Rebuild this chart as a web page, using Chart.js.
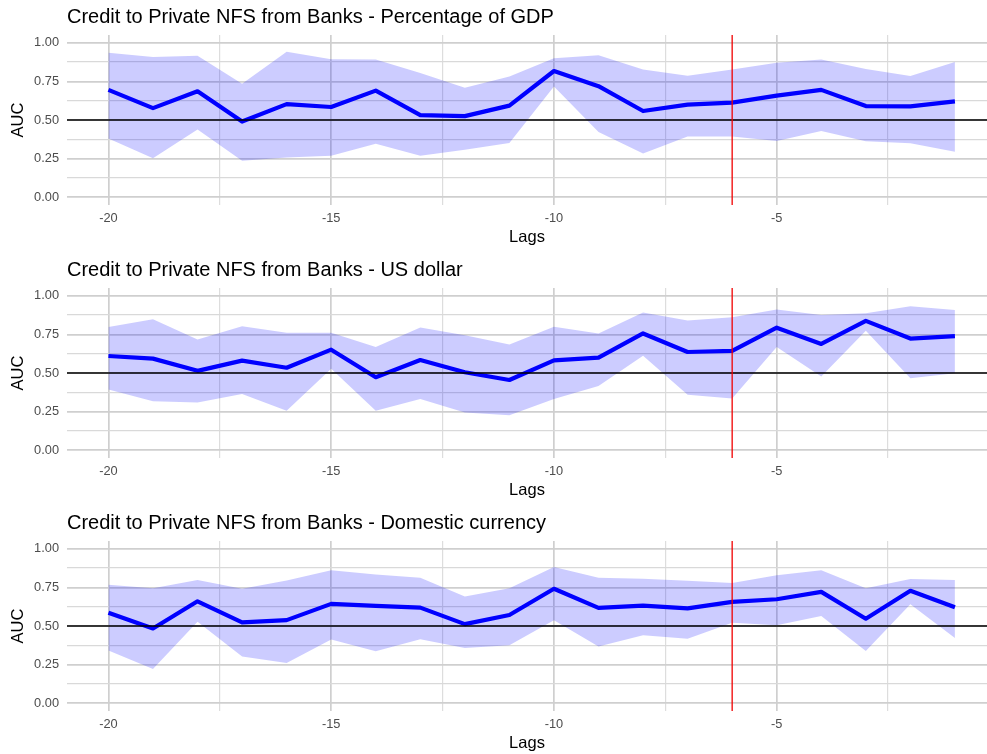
<!DOCTYPE html>
<html>
<head>
<meta charset="utf-8">
<title>AUC by lag</title>
<script src="https://cdn.jsdelivr.net/npm/chart.js@4.4.1/dist/chart.umd.min.js"></script>
<style>
  html, body { margin: 0; padding: 0; background: #fff; overflow: hidden; }
  .panel { position: absolute; left: 0; width: 987px; height: 253px; }
</style>
</head>
<body>
<div class="panel" style="top:0px"><canvas id="chart-gdp"></canvas></div>
<div class="panel" style="top:253px"><canvas id="chart-usd"></canvas></div>
<div class="panel" style="top:506px"><canvas id="chart-dc"></canvas></div>
<script>
// Lags on the x axis
const lags = [-20, -19, -18, -17, -16, -15, -14, -13, -12, -11, -10, -9, -8, -7, -6, -5, -4, -3, -2, -1];

// Panel 1 - percentage of GDP
const gdpAuc   = [0.695, 0.577, 0.686, 0.490, 0.603, 0.584, 0.690, 0.532, 0.525, 0.593, 0.817, 0.719, 0.558, 0.599, 0.612, 0.658, 0.695, 0.590, 0.588, 0.621];
const gdpLower = [0.381, 0.253, 0.438, 0.237, 0.257, 0.268, 0.346, 0.268, 0.307, 0.351, 0.717, 0.423, 0.283, 0.394, 0.394, 0.364, 0.429, 0.362, 0.349, 0.294];
const gdpUpper = [0.935, 0.908, 0.915, 0.734, 0.941, 0.893, 0.891, 0.804, 0.708, 0.782, 0.900, 0.919, 0.826, 0.786, 0.826, 0.871, 0.891, 0.830, 0.784, 0.876];

// Panel 2 - US dollar
const usdAuc   = [0.610, 0.593, 0.514, 0.580, 0.534, 0.651, 0.473, 0.584, 0.505, 0.455, 0.582, 0.599, 0.756, 0.636, 0.643, 0.793, 0.688, 0.837, 0.723, 0.739];
const usdLower = [0.394, 0.318, 0.309, 0.364, 0.255, 0.527, 0.255, 0.331, 0.244, 0.227, 0.331, 0.416, 0.612, 0.359, 0.335, 0.669, 0.477, 0.773, 0.466, 0.499];
const usdUpper = [0.797, 0.847, 0.717, 0.802, 0.760, 0.760, 0.669, 0.795, 0.745, 0.684, 0.800, 0.756, 0.891, 0.839, 0.861, 0.911, 0.876, 0.887, 0.932, 0.908];

// Panel 3 - domestic currency
const dcAuc   = [0.586, 0.484, 0.660, 0.523, 0.538, 0.643, 0.630, 0.619, 0.512, 0.571, 0.741, 0.617, 0.632, 0.614, 0.656, 0.673, 0.721, 0.547, 0.728, 0.621];
const dcLower = [0.342, 0.222, 0.527, 0.303, 0.261, 0.412, 0.336, 0.414, 0.357, 0.375, 0.538, 0.368, 0.440, 0.418, 0.521, 0.505, 0.564, 0.338, 0.641, 0.423];
const dcUpper = [0.767, 0.745, 0.797, 0.741, 0.795, 0.861, 0.834, 0.813, 0.691, 0.745, 0.882, 0.813, 0.806, 0.793, 0.778, 0.828, 0.861, 0.745, 0.804, 0.797];

// Gridlines and tick labels
const yTicks = [0, 0.125, 0.25, 0.375, 0.5, 0.625, 0.75, 0.875, 1];
const yLabels = ['0.00', '', '0.25', '', '0.50', '', '0.75', '', '1.00'];
const xTicks = [-20, -17.5, -15, -12.5, -10, -7.5, -5, -2.5];
const xLabels = ['-20', '', '-15', '', '-10', '', '-5', ''];

// Reference lines
const refAuc = 0.5;
const crisisLag = -6;

const fontFamily = "'Liberation Sans', Arial, Helvetica, sans-serif";

// Titel und Referenzlinien direkt auf die Zeichenfläche
const panelPlugin = {
    id: 'panelExtras',
    afterDatasetsDraw(chart) {
        const { ctx, chartArea, scales } = chart;
        ctx.save();
        // horizontale Linie bei 0.5
        const yRef = scales.y.getPixelForValue(refAuc);
        ctx.strokeStyle = '#000000';
        ctx.lineWidth = 1.5;
        ctx.beginPath();
        ctx.moveTo(chartArea.left, yRef);
        ctx.lineTo(chartArea.right, yRef);
        ctx.stroke();
        // vertikale Linie bei Lag -6
        const xRef = scales.x.getPixelForValue(crisisLag);
        ctx.strokeStyle = '#f00000';
        ctx.lineWidth = 1.3;
        ctx.beginPath();
        ctx.moveTo(xRef, chartArea.top);
        ctx.lineTo(xRef, chartArea.bottom);
        ctx.stroke();
        ctx.restore();
    },
    afterDraw(chart) {
        const { ctx, chartArea } = chart;
        const text = chart.options.plugins.panelExtras.title;
        ctx.save();
        ctx.fillStyle = '#000000';
        ctx.font = `20px ${fontFamily}`;
        ctx.textAlign = 'left';
        ctx.textBaseline = 'alphabetic';
        ctx.fillText(text, chartArea.left, chartArea.top - 12);
        ctx.restore();
    }
};

function toPoints(values) {
    return lags.map((lag, i) => ({ x: lag, y: values[i] }));
}

function isMajor(value, step) {
    return Math.abs(value / step - Math.round(value / step)) < 1e-6;
}

/**
 * Erstellt ein Panel mit Band, Linie und Referenzlinien
 */
function createPanel(elementId, title, auc, lower, upper) {
    const ctx = document.getElementById(elementId).getContext('2d');
    new Chart(ctx, {
        type: 'line',
        data: {
            datasets: [
                {
                    label: 'AUC',
                    data: toPoints(auc),
                    borderColor: '#0000ff',
                    borderWidth: 4.2,
                    borderJoinStyle: 'round',
                    pointRadius: 0,
                    tension: 0,
                    fill: false
                },
                {
                    label: 'lower',
                    data: toPoints(lower),
                    borderWidth: 0,
                    borderColor: 'rgba(0,0,0,0)',
                    pointRadius: 0,
                    tension: 0,
                    fill: false
                },
                {
                    label: 'upper',
                    data: toPoints(upper),
                    borderWidth: 0,
                    borderColor: 'rgba(0,0,0,0)',
                    backgroundColor: 'rgba(0, 0, 255, 0.2)',
                    pointRadius: 0,
                    tension: 0,
                    fill: '-1'
                }
            ]
        },
        options: {
            responsive: true,
            maintainAspectRatio: false,
            animation: false,
            layout: { padding: { top: 35, left: 0, right: 0, bottom: 0 } },
            plugins: {
                legend: { display: false },
                tooltip: { enabled: false },
                panelExtras: { title: title }
            },
            scales: {
                x: {
                    type: 'linear',
                    min: -20.93,
                    max: -0.28,
                    border: { display: false },
                    grid: {
                        drawTicks: false,
                        color: c => isMajor(c.tick.value, 5) ? '#cfcfcf' : '#dddddd',
                        lineWidth: c => isMajor(c.tick.value, 5) ? 1.7 : 1.2
                    },
                    afterBuildTicks: scale => { scale.ticks = xTicks.map(v => ({ value: v })); },
                    afterFit: scale => { scale.height = 48; },
                    ticks: {
                        autoSkip: false,
                        maxRotation: 0,
                        padding: 6,
                        color: '#4d4d4d',
                        font: { family: fontFamily, size: 12.8 },
                        callback: (value, index) => xLabels[index]
                    },
                    title: {
                        display: true,
                        text: 'Lags',
                        color: '#000000',
                        font: { family: fontFamily, size: 16.5 },
                        padding: { top: 0, bottom: 6 }
                    }
                },
                y: {
                    type: 'linear',
                    min: -0.05,
                    max: 1.05,
                    border: { display: false },
                    grid: {
                        drawTicks: false,
                        color: c => isMajor(c.tick.value, 0.25) ? '#cfcfcf' : '#d9d9d9',
                        lineWidth: c => isMajor(c.tick.value, 0.25) ? 1.7 : 1.3
                    },
                    afterBuildTicks: scale => { scale.ticks = yTicks.map(v => ({ value: v })); },
                    afterFit: scale => { scale.width = 67; },
                    ticks: {
                        autoSkip: false,
                        padding: 8,
                        color: '#4d4d4d',
                        font: { family: fontFamily, size: 12.8 },
                        callback: (value, index) => yLabels[index]
                    },
                    title: {
                        display: true,
                        text: 'AUC',
                        color: '#000000',
                        font: { family: fontFamily, size: 16.5 },
                        padding: { top: 9, bottom: 0 }
                    }
                }
            }
        },
        plugins: [panelPlugin]
    });
}

createPanel('chart-gdp', 'Credit to Private NFS from Banks - Percentage of GDP', gdpAuc, gdpLower, gdpUpper);
createPanel('chart-usd', 'Credit to Private NFS from Banks - US dollar', usdAuc, usdLower, usdUpper);
createPanel('chart-dc', 'Credit to Private NFS from Banks - Domestic currency', dcAuc, dcLower, dcUpper);
</script>
</body>
</html>
